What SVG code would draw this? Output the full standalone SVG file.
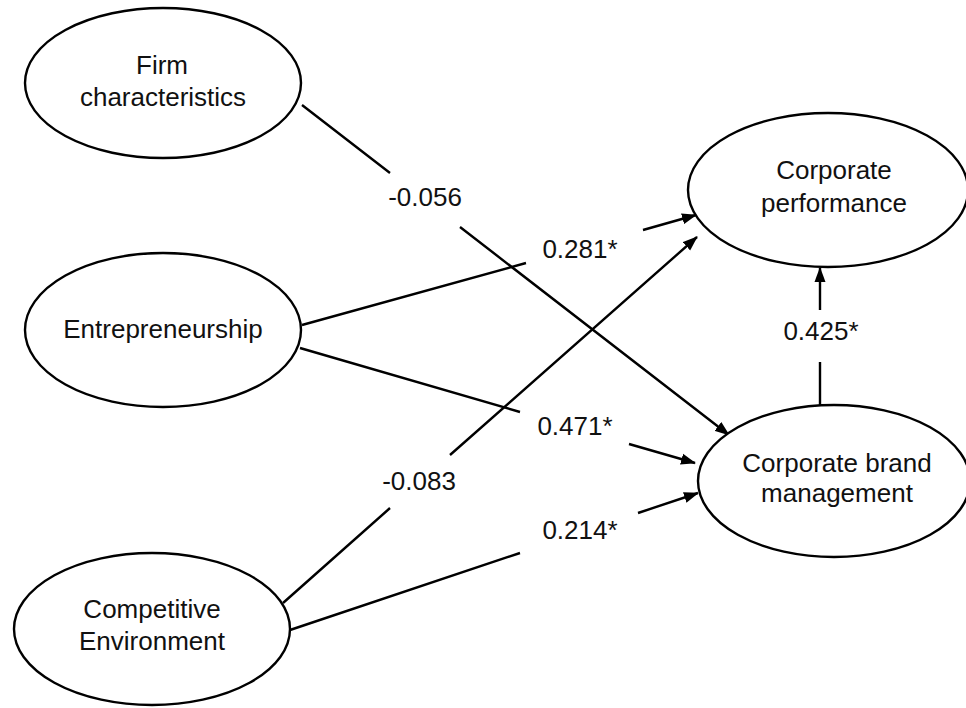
<svg xmlns="http://www.w3.org/2000/svg" width="966" height="708" viewBox="0 0 966 708">
<defs>
<style>
.node ellipse{fill:#fff;stroke:#000;stroke-width:2.4}
text{font-family:"Liberation Sans",Arial,sans-serif;font-size:26px;fill:#111;text-anchor:middle}
.conn path{fill:none;stroke:#000;stroke-width:2.4;marker-end:url(#ah)}
</style>
<marker id="ah" markerUnits="userSpaceOnUse" markerWidth="15" markerHeight="12" refX="14" refY="6" orient="auto">
<path d="M0,0.5 L15,6 L0,11.5 z" fill="#000"/>
</marker>
</defs>
<rect width="966" height="708" fill="#fff"/>
<g id="connectors" class="conn">
<path d="M302,105 L390,173 M460,227 L729,435"/>
<path d="M302,325 L526,263 M643,230 L696,215"/>
<path d="M300,348 L520,412 M629,444 L695,463"/>
<path d="M283,603 L390,508 M450,455 L697,237"/>
<path d="M290,630 L520,553 M638,513 L698,493"/>
<path d="M820,407 L820,362 M820,310 L820,268"/>
</g>
<g id="firm" class="node">
<ellipse cx="163" cy="83" rx="138" ry="75"/>
<text x="162" y="74">Firm</text>
<text x="163" y="106">characteristics</text>
</g>
<g id="entrepreneurship" class="node">
<ellipse cx="163" cy="330" rx="138" ry="77"/>
<text x="163" y="338">Entrepreneurship</text>
</g>
<g id="competitive" class="node">
<ellipse cx="152" cy="629" rx="138" ry="76"/>
<text x="152" y="618">Competitive</text>
<text x="152" y="650">Environment</text>
</g>
<g id="performance" class="node">
<ellipse cx="828" cy="190" rx="140" ry="77"/>
<text x="834" y="179">Corporate</text>
<text x="834" y="212">performance</text>
</g>
<g id="brand" class="node">
<ellipse cx="834" cy="481" rx="136" ry="76"/>
<text x="837" y="472">Corporate brand</text>
<text x="837" y="502">management</text>
</g>
<g id="labels">
<text x="425" y="206">-0.056</text>
<text x="580" y="258">0.281*</text>
<text x="575" y="435">0.471*</text>
<text x="419" y="490">-0.083</text>
<text x="580" y="539">0.214*</text>
<text x="821" y="340">0.425*</text>
</g>
</svg>
